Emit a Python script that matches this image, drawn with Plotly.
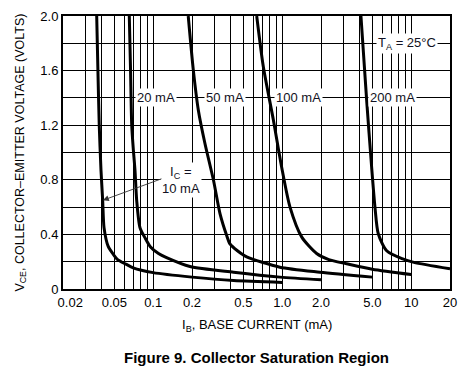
import plotly.graph_objects as go
import numpy as np

# ---- data (IB in mA, VCE in volts) ----
ib_10 = [0.0365, 0.0373, 0.0382, 0.0394, 0.0406, 0.0416, 0.0449, 0.049, 0.053, 0.062, 0.070, 0.100, 0.20, 0.42, 1.0]
v_10 = [2.0, 1.6, 1.2, 0.87, 0.65, 0.45, 0.31, 0.255, 0.215, 0.18, 0.155, 0.12, 0.087, 0.062, 0.048]

ib_20 = [0.0653, 0.0668, 0.0682, 0.0702, 0.0723, 0.0745, 0.079, 0.087, 0.095, 0.11, 0.127, 0.193, 0.42, 0.96, 2.0]
v_20 = [2.0, 1.6, 1.2, 1.02, 0.87, 0.65, 0.45, 0.37, 0.31, 0.26, 0.23, 0.165, 0.123, 0.087, 0.068]

ib_50 = [0.187, 0.205, 0.224, 0.252, 0.293, 0.330, 0.372, 0.394, 0.45, 0.531, 0.96, 1.96, 5.0]
v_50 = [2.0, 1.6, 1.31, 1.066, 0.80, 0.55, 0.39, 0.33, 0.28, 0.235, 0.16, 0.123, 0.087]

ib_100 = [0.635, 0.714, 0.854, 0.992, 1.15, 1.42, 1.85, 2.3, 3.16, 5.0, 10.0]
v_100 = [2.0, 1.63, 1.24, 0.89, 0.60, 0.38, 0.26, 0.215, 0.185, 0.145, 0.106]

ib_200 = [4.08, 4.52, 4.94, 5.24, 5.56, 6.46, 8.6, 10.5, 20.0]
v_200 = [2.0, 1.38, 0.89, 0.60, 0.405, 0.28, 0.22, 0.195, 0.148]

x_tickvals = [0.02, 0.05, 0.1, 0.2, 0.5, 1, 2, 5, 10, 20]
x_ticktext = ["\u00a0\u00a0\u00a0\u00a00.02", "0.05", "0.1", "0.2", "0.5", "1.0", "2.0", "5.0", "10", "20"]
y_tickvals = [0, 0.4, 0.8, 1.2, 1.6, 2.0]
y_ticktext = ["0", "0.4", "0.8", "1.2", "1.6", "2.0"]

curve_labels = ["20 mA", "50 mA", "100 mA", "200 mA"]
label_ib = [0.106, 0.36, 1.35, 7.16]

FONT = "Liberation Sans, Arial, sans-serif"

fig = go.Figure()
for xs, ys in [(ib_10, v_10), (ib_20, v_20), (ib_50, v_50), (ib_100, v_100), (ib_200, v_200)]:
    fig.add_trace(go.Scatter(x=xs, y=ys, mode="lines",
                             line=dict(color="black", width=3, shape="spline", smoothing=0.7),
                             showlegend=False, hoverinfo="skip"))

# minor grid positions (log decades)
minor_x = []
for dec in [0.01, 0.1, 1, 10]:
    for m in range(1, 10):
        v = round(m * dec, 6)
        if 0.02 <= v <= 20 and v not in x_tickvals:
            minor_x.append(v)

fig.update_xaxes(type="log", range=[np.log10(0.02), np.log10(20)],
                 tickvals=x_tickvals, ticktext=x_ticktext, automargin=False,
                 showgrid=True, gridcolor="black", gridwidth=1,
                 minor=dict(tickvals=minor_x, showgrid=True, gridcolor="black", gridwidth=1, ticks=""),
                 showline=True, linecolor="black", linewidth=2, mirror=True,
                 ticks="", tickfont=dict(family=FONT, size=13, color="black"),
                 zeroline=False)
fig.update_yaxes(range=[0, 2.0], tickvals=y_tickvals, ticktext=y_ticktext, automargin=False,
                 showgrid=True, gridcolor="black", gridwidth=1,
                 minor=dict(tickvals=[0.2, 0.6, 1.0, 1.4, 1.8], showgrid=True, gridcolor="black", gridwidth=1, ticks=""),
                 showline=True, linecolor="black", linewidth=2, mirror=True,
                 ticks="", tickfont=dict(family=FONT, size=13, color="black"),
                 zeroline=False)

ann_font = dict(family=FONT, size=13, color="#111122")
for txt, ib in zip(curve_labels, label_ib):
    fig.add_annotation(x=np.log10(ib), y=1.4, text=txt, showarrow=False,
                       bgcolor="white", font=ann_font, borderpad=1)
fig.add_annotation(x=np.log10(9.36), y=1.8, text="T<sub>A</sub> = 25°C", showarrow=False,
                   bgcolor="white", font=ann_font, borderpad=1)
fig.add_annotation(x=np.log10(0.164), y=0.8, text="I<sub>C</sub> =<br>10 mA", showarrow=False,
                   bgcolor="white", font=ann_font, borderpad=1)
fig.add_annotation(x=np.log10(0.0408), y=0.65, ax=60, ay=-22, text="", showarrow=True,
                   arrowhead=2, arrowsize=1.3, arrowwidth=0.9, arrowcolor="#333333")

# axis titles
fig.add_annotation(xref="paper", yref="paper", x=-0.111, y=0.5, xanchor="center", yanchor="middle",
                   textangle=-90, showarrow=False,
                   text="V<sub>CE</sub>, COLLECTOR–EMITTER VOLTAGE (VOLTS)",
                   font=dict(family=FONT, size=12.5, color="black"))
fig.add_annotation(xref="paper", yref="paper", x=0.5, y=-0.132, xanchor="center", yanchor="middle",
                   showarrow=False, text="I<sub>B</sub>, BASE CURRENT (mA)",
                   font=dict(family=FONT, size=13, color="black"))

fig.update_layout(width=466, height=379, margin=dict(l=63, r=16, t=16, b=90),
                  plot_bgcolor="white", paper_bgcolor="white",
                  font=dict(family=FONT, color="black"))
fig.add_annotation(xref="paper", yref="paper", x=0.5, y=-0.252, yanchor="middle",
                   text="<b>Figure 9. Collector Saturation Region</b>", showarrow=False,
                   font=dict(family=FONT, size=15, color="black"))

fig.write_html("out.html", config={"displayModeBar": False},
               post_script="document.body.style.margin='0';")
